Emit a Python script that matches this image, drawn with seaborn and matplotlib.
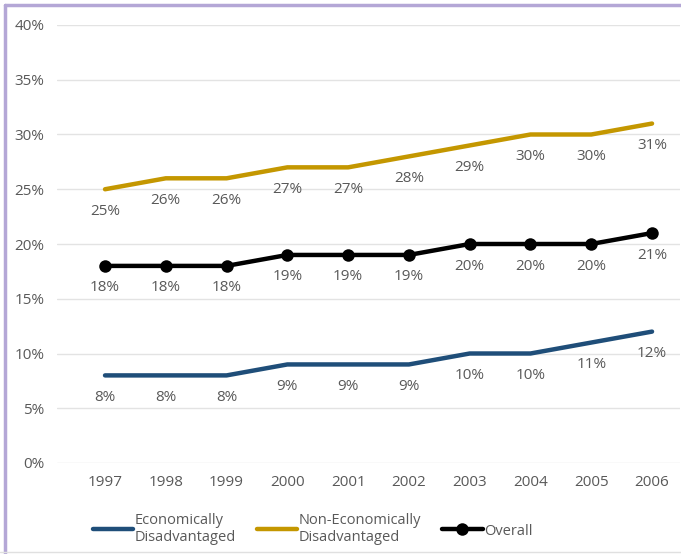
import pandas as pd
import matplotlib.pyplot as plt
from matplotlib.lines import Line2D
import seaborn as sns

years = [1997, 1998, 1999, 2000, 2001, 2002, 2003, 2004, 2005, 2006]
econ = [8, 8, 8, 9, 9, 9, 10, 10, 11, 12]
non_econ = [25, 26, 26, 27, 27, 28, 29, 30, 30, 31]
overall = [18, 18, 18, 19, 19, 19, 20, 20, 20, 21]
series_names = ['Economically\nDisadvantaged', 'Non-Economically\nDisadvantaged', 'Overall']
y_ticks = [0, 5, 10, 15, 20, 25, 30, 35, 40]

sns.set_style('white')
plt.rcParams['font.family'] = ['Open Sans', 'DejaVu Sans']
text_color = '#595959'

fig = plt.figure(figsize=(6.81, 5.54), dpi=100)
ax = fig.add_axes([57 / 681, 91 / 554, (680 - 57) / 681, (529 - 91) / 554])

colors = ['#1F4E79', '#C49700', '#000000']
for name, vals, col in zip(series_names, [econ, non_econ, overall], colors):
    df = pd.DataFrame({'year': years, 'pct': vals})
    marker = 'o' if name == 'Overall' else None
    sns.lineplot(data=df, x='year', y='pct', ax=ax, color=col, linewidth=3.2,
                 marker=marker, markersize=9, markeredgewidth=0, label=name,
                 solid_capstyle='round')
    for x, v in zip(years, vals):
        ax.annotate(f'{v}%', (x, v), xytext=(0, -22), textcoords='offset pixels',
                    ha='center', va='center', fontsize=11, color=text_color)

ax.set_xlim(1997 - 0.79, 2006 + 0.46)
ax.set_ylim(0, 40)
ax.set_yticks(y_ticks)
ax.set_yticklabels([f'{t}%' for t in y_ticks])
ax.set_xticks(years)
ax.tick_params(axis='both', length=0, labelsize=11, colors=text_color)
ax.tick_params(axis='x', pad=9)
ax.tick_params(axis='y', pad=9)
ax.grid(axis='y', color='#E3E3E3', linewidth=1)
ax.set_xlabel('')
ax.set_ylabel('')
for s in ax.spines.values():
    s.set_visible(False)

ax.get_legend().remove()
handles, labels = ax.get_legend_handles_labels()
fig.legend(handles, labels, loc='center', bbox_to_anchor=(0.459, 0.045), ncol=3,
           frameon=False, fontsize=10.5, labelcolor=text_color, handlelength=2.8,
           handletextpad=0.1, columnspacing=1.4)

# frame edges
fig.add_artist(Line2D([4.5 / 681, 4.5 / 681], [0, 1 - 4.5 / 554], color='#B4A7D6', linewidth=2.5))
fig.add_artist(Line2D([4.5 / 681, 1], [1 - 4.5 / 554, 1 - 4.5 / 554], color='#B4A7D6', linewidth=2.5))
fig.add_artist(Line2D([0, 1], [2 / 554, 2 / 554], color='#E0E0E0', linewidth=1))

fig.savefig('out.png', dpi=100)
